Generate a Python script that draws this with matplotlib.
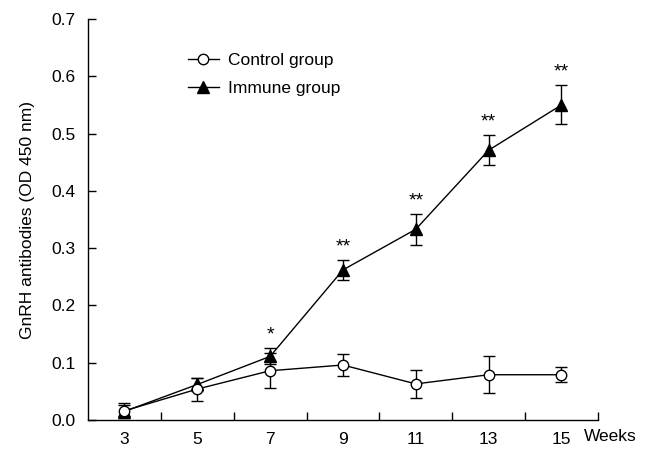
import matplotlib
matplotlib.use("Agg")
import matplotlib.pyplot as plt
from matplotlib.lines import Line2D
from matplotlib.transforms import blended_transform_factory

plt.rcParams['font.family'] = ['Liberation Sans', 'DejaVu Sans']

weeks = [3, 5, 7, 9, 11, 13, 15]
control_mean = [0.016, 0.054, 0.086, 0.096, 0.063, 0.079, 0.079]
control_err = [0.013, 0.020, 0.031, 0.020, 0.025, 0.032, 0.013]
immune_mean = [0.015, 0.062, 0.111, 0.262, 0.333, 0.471, 0.550]
immune_err = [0.012, 0.011, 0.014, 0.017, 0.027, 0.026, 0.034]
signif = ["", "", "*", "**", "**", "**", "**"]
yticks = [0.0, 0.1, 0.2, 0.3, 0.4, 0.5, 0.6, 0.7]

FS = 12.5

fig = plt.figure(figsize=(6.52, 4.49), dpi=100)
ax = fig.add_axes([0.135, 0.0646, 0.782, 0.893])

ax.errorbar(weeks, immune_mean, yerr=immune_err, color='black', lw=1.0,
            marker='^', markersize=8.5, mfc='black', mec='black',
            capsize=4.5, elinewidth=1.0, capthick=1.0, zorder=2)
ax.errorbar(weeks, control_mean, yerr=control_err, color='black', lw=1.0,
            marker='o', markersize=7.5, mfc='white', mec='black', mew=1.0,
            capsize=4.5, elinewidth=1.0, capthick=1.0, zorder=3)

for x, m, e, s in zip(weeks, immune_mean, immune_err, signif):
    if s:
        ax.text(x, m + e + 0.008, s, ha='center', va='bottom', fontsize=14)

ax.set_xlim(2, 16)
ax.set_ylim(0, 0.7)
ax.set_xticks(weeks)
ax.set_xticklabels([str(w) for w in weeks], fontsize=FS)
ax.set_xticks([4, 6, 8, 10, 12, 14, 16], minor=True)
ax.tick_params(axis='x', which='major', length=0, pad=9)
ax.tick_params(axis='x', which='minor', direction='in', length=6, width=1)
ax.set_yticks(yticks)
ax.set_yticklabels([f"{v:.1f}" for v in yticks], fontsize=FS)
ax.tick_params(axis='y', direction='in', length=6, width=1, pad=9)

ax.spines['top'].set_visible(False)
ax.spines['right'].set_visible(False)
for sp in ['left', 'bottom']:
    ax.spines[sp].set_linewidth(1.0)

trans = blended_transform_factory(ax.transData, ax.transAxes)
ax.text(15.62, -0.0225, 'Weeks', ha='left', va='top', fontsize=FS,
        transform=trans, clip_on=False)

ax.set_ylabel('GnRH antibodies (OD 450 nm)', fontsize=FS, labelpad=12)

h1 = Line2D([], [], color='black', lw=1.0, marker='o', markersize=7.5,
            mfc='white', mec='black')
h2 = Line2D([], [], color='black', lw=1.0, marker='^', markersize=8.5,
            mfc='black', mec='black')
ax.legend([h1, h2], ['Control group', 'Immune group'], loc='upper left',
          bbox_to_anchor=(0.165, 0.955), frameon=False, fontsize=FS,
          handlelength=1.8, handletextpad=0.5, labelspacing=0.75)

fig.savefig('out.png', dpi=100)
